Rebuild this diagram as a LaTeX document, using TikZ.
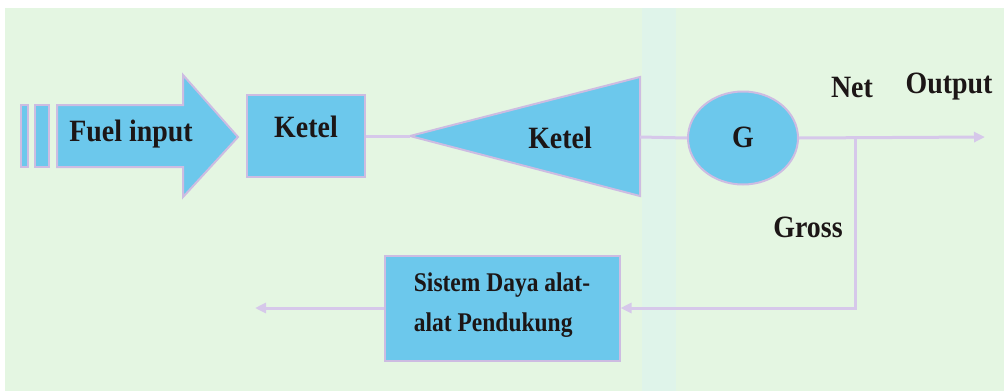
\documentclass[tikz,border=0pt]{standalone}
\usepackage{fontspec}
\setmainfont{Liberation Serif}
\usetikzlibrary{shapes.geometric,arrows.meta}
\definecolor{bgmint}{RGB}{228,246,226}
\definecolor{bgband}{RGB}{223,244,234}
\definecolor{skyfill}{RGB}{108,200,236}
\definecolor{lavedge}{RGB}{205,188,226}
\definecolor{flowline}{RGB}{214,200,234}
\definecolor{inkdark}{RGB}{28,22,22}
\tikzset{
  blockbox/.style={draw=lavedge, line width=2pt, fill=skyfill},
  flow/.style={draw=flowline, line width=3pt},
  flowarrow/.style={flow, -{Triangle[length=11pt,width=10pt]}},
  labeltext/.style={text=inkdark, font=\fontsize{31}{34}\selectfont\bfseries, inner sep=0pt, xscale=0.9, transform shape},
  smalltext/.style={text=inkdark, font=\fontsize{27}{40}\selectfont\bfseries, inner sep=0pt, xscale=0.87, transform shape}
}
\begin{document}
\begin{tikzpicture}[x=1pt,y=-1pt]
  % page and background
  \useasboundingbox (0,0) rectangle (1004,391);
  \fill[white] (0,0) rectangle (1004,391);
  \fill[bgmint] (5,8) rectangle (1004,391);
  \fill[bgband] (642,8) rectangle (676,391);

  % fuel input arrow with its two tail stripes
  \fill[blockbox] (21,105) rectangle (28,167);
  \fill[blockbox] (35,105) rectangle (49,167);
  \draw[blockbox] (57,105) -- (183,105) -- (183,75) -- (238,137)
        -- (183,197) -- (183,167) -- (57,167) -- cycle;
  \node[labeltext] (fuel) at (131,134) {Fuel input};

  % first block
  \node[blockbox, minimum width=118pt, minimum height=82pt, inner sep=0pt] (ketelA) at (306,136) {};
  \node[labeltext] (ketelAtext) at (306,127) {Ketel};

  % tapered block
  \coordinate (triTip) at (410,136);
  \coordinate (triRight) at (640,137);
  \draw[blockbox] (triTip) -- (640,77) -- (640,196) -- cycle;
  \node[labeltext] (ketelB) at (560,138) {Ketel};

  % generator
  \node[blockbox, ellipse, minimum width=110pt, minimum height=93pt, inner sep=0pt] (gen) at (743,138) {};
  \node[labeltext] (gentext) at (743,137) {G};

  % auxiliary power block
  \node[blockbox, minimum width=235pt, minimum height=105pt, inner sep=0pt] (aux) at (502,308) {};
  \node[smalltext, align=left] (auxtext) at (502,305) {Sistem Daya alat-\\alat Pendukung};

  % output labels
  \node[labeltext] (net) at (852,87) {Net};
  \node[labeltext] (outlbl) at (949,87) {Output};
  \node[labeltext] (gross) at (808,227) {Gross};

  % connectors
  \coordinate (netEnd) at (985,137);
  \coordinate (branch) at (855,137);
  \coordinate (auxEnd) at (255,308);
  \draw[flow] (ketelA.east) -- (triTip);
  \draw[flow] (triRight) -- (gen.west);
  \draw[flowarrow] (gen.east) -- (netEnd);
  \draw[flowarrow] (branch) |- (aux.east);
  \draw[flowarrow] (aux.west) -- (auxEnd);
\end{tikzpicture}
\end{document}
